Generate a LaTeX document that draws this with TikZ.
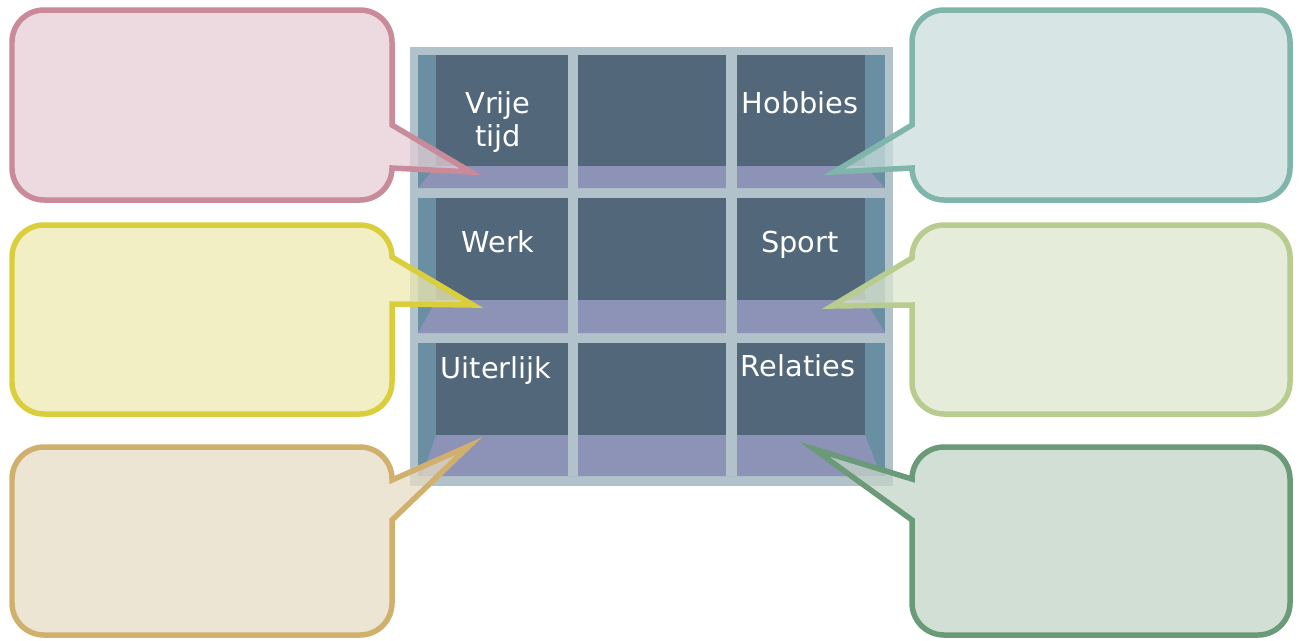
\documentclass[tikz,border=0pt]{standalone}
\usepackage{fontspec}
\setmainfont{DejaVu Sans}
\usepackage{xcolor}
\usepackage{tikz}

\definecolor{shelfframe}{RGB}{178,194,202}
\definecolor{shelfside}{RGB}{106,143,163}
\definecolor{shelfback}{RGB}{82,103,122}
\definecolor{shelffloor}{RGB}{141,146,183}
\definecolor{pinkline}{RGB}{201,138,154}
\definecolor{pinkfill}{RGB}{230,206,214}
\definecolor{yellowline}{RGB}{218,206,60}
\definecolor{yellowfill}{RGB}{238,234,176}
\definecolor{tanline}{RGB}{209,176,110}
\definecolor{tanfill}{RGB}{231,220,196}
\definecolor{tealline}{RGB}{127,181,170}
\definecolor{tealfill}{RGB}{202,222,220}
\definecolor{limeline}{RGB}{184,204,144}
\definecolor{limefill}{RGB}{222,230,206}
\definecolor{greenline}{RGB}{106,154,120}
\definecolor{greenfill}{RGB}{195,212,199}

\begin{document}
\begin{tikzpicture}[x=0.02cm,y=-0.02cm,
    bubble/.style={line width=0.11cm,fill opacity=0.75},
    celltext/.style={text=white,inner sep=0pt,align=center,
        font=\fontsize{16.4}{18.8}\selectfont}]
    \useasboundingbox (0,0) rectangle (1300,640);

    % shelf
    \fill[shelfframe] (410,47) rectangle (893,486);
    \fill[shelfside] (418,55) rectangle (885,188);
    \fill[shelfback] (436,55) rectangle (865,166);
    \fill[shelffloor] (436,166) -- (865,166) -- (885,188) -- (418,188) -- cycle;
    \fill[shelfside] (418,198) rectangle (885,333);
    \fill[shelfback] (436,198) rectangle (865,300);
    \fill[shelffloor] (436,300) -- (865,300) -- (885,333) -- (418,333) -- cycle;
    \fill[shelfside] (418,343) rectangle (885,476);
    \fill[shelfback] (436,343) rectangle (865,435);
    \fill[shelffloor] (436,435) -- (865,435) -- (881,476) -- (422,476) -- cycle;
    \fill[shelfframe] (568,55) rectangle (578,476);
    \fill[shelfframe] (726,55) rectangle (737,476);

    % compartments
    \node[celltext] (vrije) at (498,122) {Vrije\\tijd};
    \node[celltext,anchor=base] (hobbies) at (800,113) {Hobbies};
    \node[celltext,anchor=base] (werk) at (498,252) {Werk};
    \node[celltext,anchor=base] (sport) at (800,252) {Sport};
    \node[celltext,anchor=base] (uiterlijk) at (496,378) {Uiterlijk};
    \node[celltext,anchor=base] (relaties) at (798,376) {Relaties};

    % tips
    \coordinate (tipA) at (471,172);
    \coordinate (tipB) at (473,305);
    \coordinate (tipC) at (469,446);
    \coordinate (tipD) at (834,172);
    \coordinate (tipE) at (832,306);
    \coordinate (tipF) at (814,449);

    % left callouts
    \draw[bubble,draw=pinkline,fill=pinkfill] (200,200) [rounded corners=0.64cm]
        -- (12,200) -- (12,10) -- (392,10) [sharp corners] -- (392,125) -- (tipA)
        -- (392,168) [rounded corners=0.64cm] -- (392,200) -- cycle;
    \draw[bubble,draw=yellowline,fill=yellowfill] (200,414) [rounded corners=0.64cm]
        -- (12,414) -- (12,225) -- (392,225) [sharp corners] -- (392,257) -- (tipB)
        -- (392,304) [rounded corners=0.64cm] -- (392,414) -- cycle;
    \draw[bubble,draw=tanline,fill=tanfill] (200,635) [rounded corners=0.64cm]
        -- (12,635) -- (12,447) -- (392,447) [sharp corners] -- (392,480) -- (tipC)
        -- (392,520) [rounded corners=0.64cm] -- (392,635) -- cycle;

    % right callouts
    \draw[bubble,draw=tealline,fill=tealfill] (1100,200) [rounded corners=0.64cm]
        -- (1290,200) -- (1290,10) -- (912,10) [sharp corners] -- (912,125) -- (tipD)
        -- (912,168) [rounded corners=0.64cm] -- (912,200) -- cycle;
    \draw[bubble,draw=limeline,fill=limefill] (1100,414) [rounded corners=0.64cm]
        -- (1290,414) -- (1290,225) -- (912,225) [sharp corners] -- (912,258) -- (tipE)
        -- (912,305) [rounded corners=0.64cm] -- (912,414) -- cycle;
    \draw[bubble,draw=greenline,fill=greenfill] (1100,635) [rounded corners=0.64cm]
        -- (1290,635) -- (1290,447) -- (912,447) [sharp corners] -- (912,479) -- (tipF)
        -- (912,520) [rounded corners=0.64cm] -- (912,635) -- cycle;
\end{tikzpicture}
\end{document}
